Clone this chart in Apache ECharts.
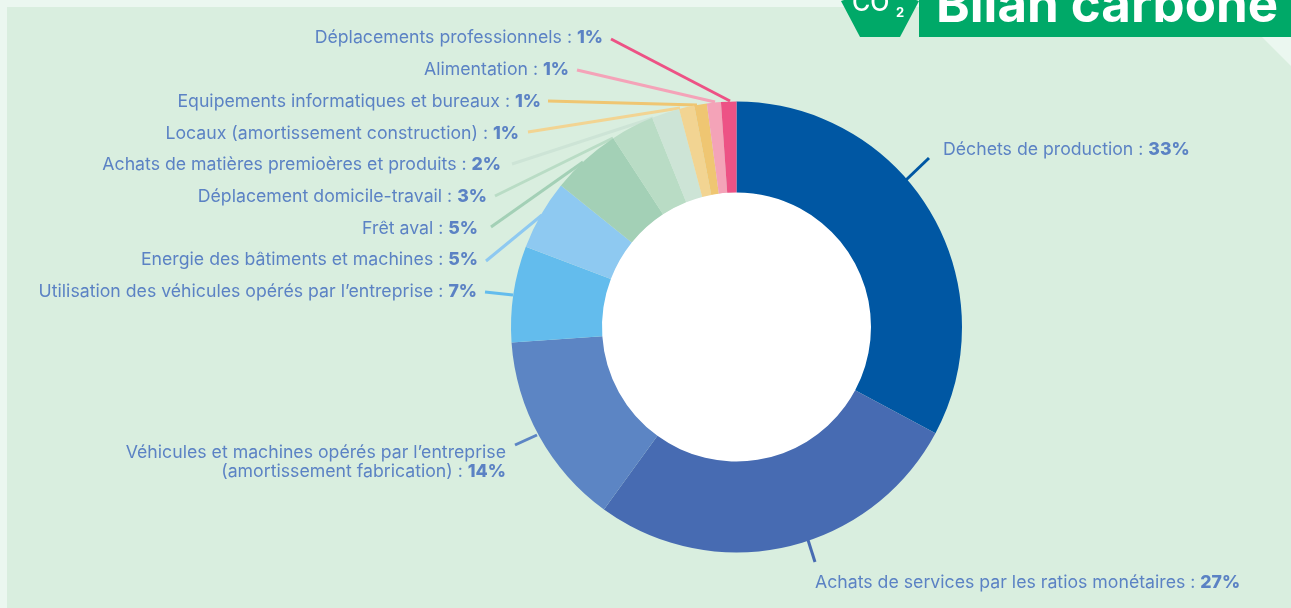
<!DOCTYPE html>
<html><head><meta charset="utf-8">
<style>html,body{margin:0;padding:0;background:#ebf7f0}#c{width:1291px;height:608px}</style>
<script src="https://cdn.jsdelivr.net/npm/echarts@6/dist/echarts.min.js"></script>
</head><body><div id="c"></div>
<script>
const categories = ["Déchets de production","Achats de services par les ratios monétaires","Véhicules et machines opérés par l’entreprise\n(amortissement fabrication)","Utilisation des véhicules opérés par l’entreprise","Energie des bâtiments et machines","Frêt aval","Déplacement domicile-travail","Achats de matières premioères et produits","Locaux (amortissement construction)","Equipements informatiques et bureaux","Alimentation","Déplacements professionnels"];
const sliceValues = [32.8,27.2,13.9,6.9,5,5,3.1,2,1.1,0.9,1,1.1];
const shownPercents = ["33%","27%","14%","7%","5%","5%","3%","2%","1%","1%","1%","1%"];
const colors = ["#0057a3","#476bb2","#5c85c4","#63bced","#8ec9f1","#a3d0b6","#b9dcc5","#cde4d6","#f2d492","#efc672","#f4a3b8","#ed5285"];
// label anchor [x, y, align], leader start, leader end at ring
const layouts = [
 {x:943,y:150,a:"left",p:[[906,180],[929,158]]},
 {x:815,y:583,a:"left",p:[[808,540],[815,562]]},
 {x:506,y:462,a:"right",p:[[537,435],[515,445]]},
 {x:477,y:292,a:"right",p:[[513,295],[485,292]]},
 {x:478,y:260,a:"right",p:[[542,215],[486,261]]},
 {x:478,y:229,a:"right",p:[[583,162],[491,227]]},
 {x:487,y:197,a:"right",p:[[613,138],[495,196]]},
 {x:501,y:165,a:"right",p:[[653,118],[512,164]]},
 {x:519,y:134,a:"right",p:[[680,108],[528,132]]},
 {x:541,y:102,a:"right",p:[[697,105],[548,101]]},
 {x:569,y:70,a:"right",p:[[715,102],[577,70]]},
 {x:603,y:38,a:"right",p:[[730,101],[611,39]]}
];
const font = "Inter";
const fs = 17.7;
const chart = echarts.init(document.getElementById('c'),null,{renderer:'canvas'});
chart.setOption({
 animation:false,
 backgroundColor:'#ebf7f0',
 graphic:[
  {type:'polygon',z:-10,silent:true,shape:{points:[[7,7],[1291,7],[1291,66],[1262,37],[1291,66],[1291,608],[7,608]]},style:{fill:'#d9eedf'}},
  {type:'polygon',z:-9,silent:true,shape:{points:[[1262,37],[1291,37],[1291,66]]},style:{fill:'#ebf7f0'}},
  {type:'rect',z:5,silent:true,shape:{x:919,y:0,width:372,height:37},style:{fill:'#00a968'}},
  {type:'polygon',z:5,silent:true,shape:{points:[[841,1],[844,0],[916,0],[919,1],[900,37],[860,37]]},style:{fill:'#00a968'}},
  {type:'text',z:6,silent:true,style:{x:936,y:-19,text:'Bilan carbone',fill:'#fff',font:'700 51px Inter'}},
  {type:'text',z:6,silent:true,style:{x:852,y:-9,text:'CO',fill:'#fff',font:'500 25px Inter'}},
  {type:'text',z:6,silent:true,style:{x:896,y:7,text:'2',fill:'#fff',font:'700 13px Inter'}}
 ],
 series:[
  {type:'pie',silent:true,z:1,center:[736.5,327],radius:[0,135],label:{show:false},labelLine:{show:false},itemStyle:{color:'#fff'},data:[1]},
  {type:'pie',silent:true,z:2,center:[736.5,327],radius:[134.5,225.5],startAngle:90,clockwise:true,sort:null,minShowLabelAngle:0,avoidLabelOverlap:false,
   data:categories.map((n,i)=>({name:n,value:sliceValues[i],itemStyle:{color:colors[i]},labelLine:{lineStyle:{color:colors[i],width:3}}})),
   label:{show:true,position:'outside',color:'#5b82c4',fontFamily:font,fontSize:fs,
    formatter:p=>{const s=shownPercents[p.dataIndex];return p.name.split('\n').map((l,k,arr)=>k<arr.length-1?`{t|${l}}`:`{t|${l} : }{b|${s}}`).join('\n');},
    rich:{t:{color:'#5b82c4',fontFamily:font,fontSize:fs,lineHeight:19.5},b:{color:'#5b82c4',fontFamily:font,fontSize:fs,fontWeight:800,lineHeight:19.5}}},
   labelLine:{show:true,length:10,length2:10,smooth:false},
   labelLayout:p=>{const L=layouts[p.dataIndex];
     return {x:L.x,y:L.y,align:L.a,verticalAlign:'middle',labelLinePoints:[L.p[0],[(L.p[0][0]+L.p[1][0])/2,(L.p[0][1]+L.p[1][1])/2],L.p[1]]};}
  }
 ]
});
</script></body></html>
